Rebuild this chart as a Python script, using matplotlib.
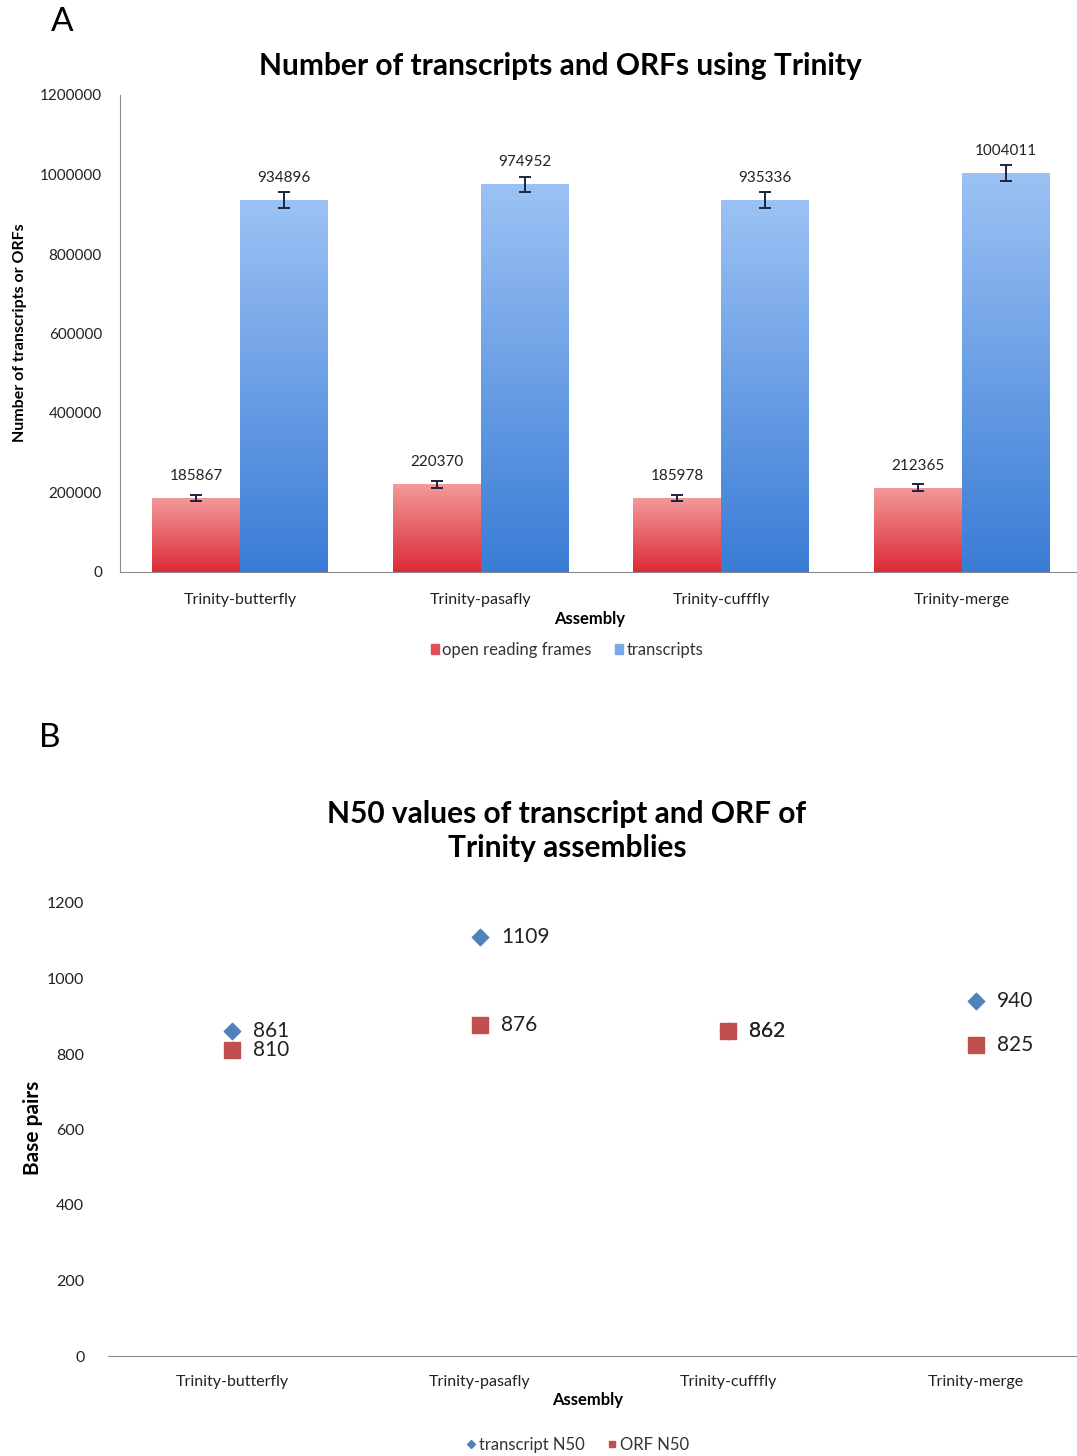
import numpy as np
import matplotlib.pyplot as plt
from matplotlib.colors import LinearSegmentedColormap
from matplotlib.patches import Patch
from matplotlib.lines import Line2D
from matplotlib.ticker import StrMethodFormatter

plt.rcParams["font.family"] = ["Lato", "DejaVu Sans"]

assemblies = ["Trinity-butterfly", "Trinity-pasafly", "Trinity-cufffly", "Trinity-merge"]

# panel A: counts per assembly
orf_counts = [185867, 220370, 185978, 212365]
transcript_counts = [934896, 974952, 935336, 1004011]
orf_err = [8000, 8000, 8000, 8000]
transcript_err = [20000, 20000, 20000, 20000]

# panel B: N50 lengths (bp)
transcript_n50 = [861, 1109, 862, 940]
orf_n50 = [810, 876, 862, 825]

W, H = 1077, 1456
fig = plt.figure(figsize=(W / 100, H / 100), dpi=100)


def gradient_bars(ax, bars, top, bottom):
    cmap = LinearSegmentedColormap.from_list("g", [bottom, top])
    grad = np.linspace(0, 1, 256).reshape(-1, 1)
    for b in bars:
        x0, y0 = b.get_x(), b.get_y()
        im = ax.imshow(grad, cmap=cmap, origin="lower", aspect="auto",
                       extent=(x0, x0 + b.get_width(), y0, y0 + b.get_height()),
                       zorder=2)
        im.set_clip_path(b)


# ---- A: bar chart ----
axA = fig.add_axes([120 / W, 1 - 572 / H, 962 / W, 477 / H])
x = np.arange(len(assemblies))
bw = 0.365
b1 = axA.bar(x - bw / 2, orf_counts, bw, color="#e65a60", zorder=1)
b2 = axA.bar(x + bw / 2, transcript_counts, bw, color="#6a9fe6", zorder=1)
gradient_bars(axA, b1, "#f29a9a", "#dc2a36")
gradient_bars(axA, b2, "#9cc2f4", "#3a7cd6")
axA.errorbar(x - bw / 2, orf_counts, yerr=orf_err, fmt="none", ecolor="#1c2440",
             capsize=4, elinewidth=1.4, capthick=1.4, zorder=4)
axA.errorbar(x + bw / 2, transcript_counts, yerr=transcript_err, fmt="none",
             ecolor="#1c2440", capsize=4, elinewidth=1.4, capthick=1.4, zorder=4)
for xs, vals in ((x - bw / 2, orf_counts), (x + bw / 2, transcript_counts)):
    for xi, v in zip(xs, vals):
        axA.annotate(f"{v}", (xi, v), xytext=(0, 15), textcoords="offset pixels",
                     ha="center", va="bottom", fontsize=11, color="#222222")
axA.set_xlim(-0.5, 3.5)
axA.set_ylim(0, 1200000)
axA.set_yticks(np.arange(0, 1200001, 200000))
axA.yaxis.set_major_formatter(StrMethodFormatter("{x:.0f}"))
axA.set_xticks(x)
axA.set_xticklabels(assemblies)
axA.tick_params(axis="y", length=0, pad=13, labelsize=11, labelcolor="#222222")
axA.tick_params(axis="x", length=0, pad=15, labelsize=11.5, labelcolor="#222222")
for s in ("top", "right"):
    axA.spines[s].set_visible(False)
for s in ("left", "bottom"):
    axA.spines[s].set_color("#8a8a8a")

fig.text(62 / W, 1 - 22 / H, "A", fontsize=24, ha="center", va="center")
fig.text(560 / W, 1 - 66 / H, "Number of transcripts and ORFs using Trinity",
         fontsize=21.5, fontweight="bold", ha="center", va="center")
fig.text(20 / W, 1 - 333 / H, "Number of transcripts or ORFs", fontsize=11.5,
         fontweight="bold", rotation=90, ha="center", va="center")
fig.text(590 / W, 1 - 619 / H, "Assembly", fontsize=12, fontweight="bold",
         ha="center", va="center")
fig.legend(handles=[Patch(color="#e0505a", label="open reading frames"),
                    Patch(color="#7aa8e8", label="transcripts")],
           loc="center", bbox_to_anchor=(567 / W, 1 - 650 / H), ncol=2,
           frameon=False, fontsize=12, handlelength=0.5, handleheight=0.5,
           handletextpad=0.2, columnspacing=1.4, labelcolor="#333333")

# ---- B: N50 scatter ----
axB = fig.add_axes([108 / W, 1 - 1356 / H, 992 / W, 453 / H])
axB.scatter(x, transcript_n50, marker="D", s=70, color="#4f81bd", zorder=3)
axB.scatter(x, orf_n50, marker="s", s=140, color="#c0504d", zorder=4)
for xi, v in zip(x, transcript_n50):
    axB.annotate(f"{v}", (xi, v), xytext=(21, 0), textcoords="offset pixels",
                 ha="left", va="center", fontsize=15, color="#222222")
for xi, v in zip(x, orf_n50):
    axB.annotate(f"{v}", (xi, v), xytext=(21, 0), textcoords="offset pixels",
                 ha="left", va="center", fontsize=15, color="#222222")
axB.set_xlim(-0.5, 3.5)
axB.set_ylim(0, 1200)
axB.set_yticks(np.arange(0, 1201, 200))
axB.set_xticks(x)
axB.set_xticklabels(assemblies)
axB.tick_params(axis="y", length=0, pad=17, labelsize=11.5, labelcolor="#222222")
axB.tick_params(axis="x", length=0, pad=14, labelsize=11.5, labelcolor="#222222")
for s in ("top", "right", "left"):
    axB.spines[s].set_visible(False)
axB.spines["bottom"].set_color("#8a8a8a")

fig.text(50 / W, 1 - 738 / H, "B", fontsize=24, ha="center", va="center")
fig.text(567 / W, 1 - 831 / H, "N50 values of transcript and ORF of\nTrinity assemblies",
         fontsize=21.5, fontweight="bold", ha="center", va="center", linespacing=1.3)
fig.text(33 / W, 1 - 1128 / H, "Base pairs", fontsize=15, fontweight="bold",
         rotation=90, ha="center", va="center")
fig.text(588 / W, 1 - 1400 / H, "Assembly", fontsize=12, fontweight="bold",
         ha="center", va="center")
fig.legend(handles=[Line2D([], [], ls="none", marker="D", ms=4, color="#4f81bd",
                           label="transcript N50"),
                    Line2D([], [], ls="none", marker="s", ms=5, color="#c0504d",
                           label="ORF N50")],
           loc="center", bbox_to_anchor=(578 / W, 1 - 1445 / H), ncol=2,
           frameon=False, fontsize=12, handlelength=0.5, handletextpad=0.2,
           columnspacing=1.4, labelcolor="#333333")

fig.savefig("out.png", dpi=100)
